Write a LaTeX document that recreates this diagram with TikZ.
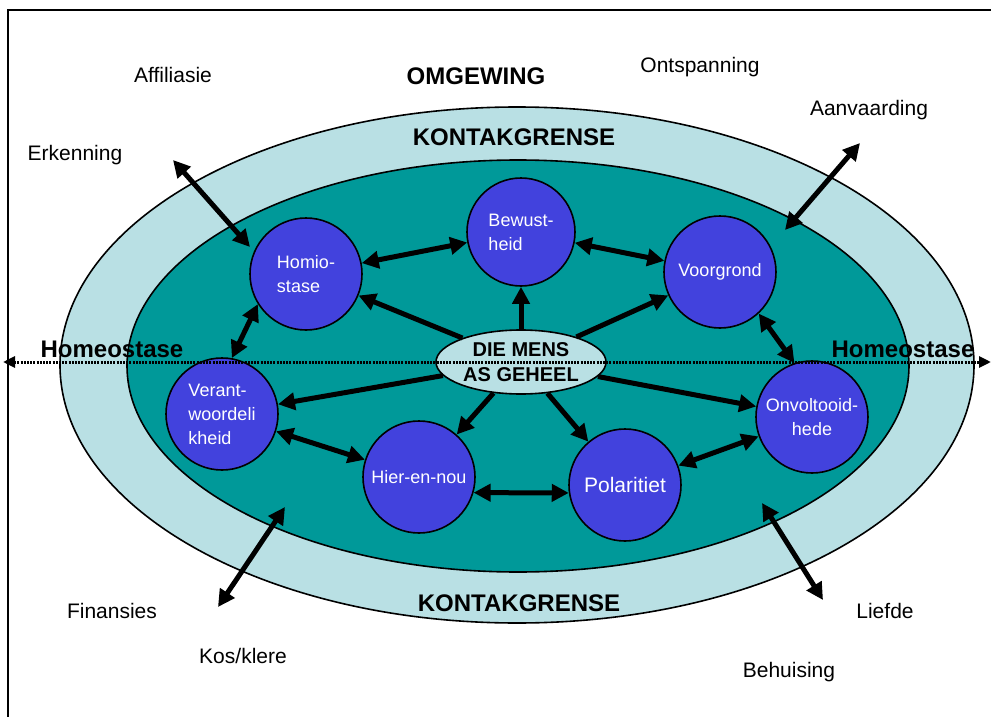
\documentclass[tikz,border=0pt]{standalone}
\usepackage{fontspec}
\setmainfont{Liberation Sans}
\usepackage{tikz}
\usetikzlibrary{shapes,arrows.meta,positioning}
\definecolor{kontakblue}{RGB}{185,224,228}
\definecolor{innerteal}{RGB}{0,153,153}
\definecolor{circleblue}{RGB}{66,66,221}

\begin{document}
\begin{tikzpicture}[x=1pt, y=-1pt,
  area/.style={line width=1.6pt},
  theme/.style={draw, circle, line width=1.6pt, fill=circleblue, text=white, minimum size=112pt, inner sep=0pt, align=left, font=\fontsize{18}{24}\selectfont},
  label/.style={font=\fontsize{21}{25}\selectfont},
  heading/.style={font=\bfseries\fontsize{24}{28}\selectfont},
  conn/.style={line width=5pt, -{Triangle[length=17pt,width=17pt]}},
  twoway/.style={line width=5pt, {Triangle[length=17pt,width=17pt]}-{Triangle[length=17pt,width=17pt]}}]
  \useasboundingbox (0,0) rectangle (991,717);

  % frame
  \draw[line width=1.8pt] (8,717) -- (8,10) -- (991,10);

  % contact boundary and inner field
  \filldraw[area, fill=kontakblue] (517,365) ellipse [x radius=457, y radius=258];
  \filldraw[area, fill=innerteal] (518,366) ellipse [x radius=391, y radius=206];

  % themes
  \node[theme, minimum size=108pt] (bewust) at (521,232) {Bewust-\\heid};
  \node[theme] (homio) at (306,274) {Homio-\\stase};
  \node[theme] (voorgrond) at (720,272) {Voorgrond};
  \node[theme] (verant) at (222,414) {Verant-\\woordeli\\kheid};
  \node[theme] (hiernou) at (419,477) {Hier-en-nou};
  \node[theme, font=\fontsize{21}{25}\selectfont] (polar) at (625,485) {Polaritiet};
  \node[theme, align=center] (onvol) at (812,417) {Onvoltooid-\\hede};

  % the whole person
  \node[draw, ellipse, line width=1.6pt, fill=kontakblue, minimum width=170pt, minimum height=64pt, inner sep=0pt, align=center, font=\bfseries\fontsize{20}{25}\selectfont] (mens) at (521,362) {DIE MENS\\AS GEHEEL};

  % homeostasis axis
  \coordinate (hleft) at (3,362);
  \coordinate (hright) at (991,362);
  \draw[line width=3pt, dash pattern=on 2pt off 1.2pt, {Triangle[length=12pt,width=11pt]}-{Triangle[length=12pt,width=11pt]}] (hleft) -- (hright);

  % texts
  \node[heading] (omgewing) at (476,76) {OMGEWING};
  \node[heading] (kontaktop) at (514,137) {KONTAKGRENSE};
  \node[heading] (kontakbot) at (519,603) {KONTAKGRENSE};
  \node[heading] (homeoleft) at (112,349) {Homeostase};
  \node[heading] (homeoright) at (903,349) {Homeostase};
  \node[label] (affiliasie) at (173,75) {Affiliasie};
  \node[label] (ontspanning) at (700,67) {Ontspanning};
  \node[label] (aanvaarding) at (869,110) {Aanvaarding};
  \node[label] (erkenning) at (75,155) {Erkenning};
  \node[label] (finansies) at (112,611) {Finansies};
  \node[label] (kosklere) at (243,656) {Kos/klere};
  \node[label] (liefde) at (885,611) {Liefde};
  \node[label] (behuising) at (789,672) {Behuising};

  % from the whole to the parts
  \draw[conn] (mens) -- (bewust);
  \draw[conn] (mens) -- (homio);
  \draw[conn] (mens) -- (voorgrond);
  \draw[conn] (mens) -- (verant);
  \draw[conn] (mens) -- (hiernou);
  \draw[conn] (mens) -- (polar);
  \draw[conn] (mens) -- (onvol);

  % between the parts
  \draw[twoway] (homio) -- (bewust);
  \draw[twoway] (bewust) -- (voorgrond);
  \draw[twoway] (homio.212) -- (verant.80);
  \draw[twoway] (voorgrond.313) -- (onvol.108);
  \draw[twoway] (verant) -- (hiernou);
  \draw[twoway] (hiernou.344) -- (polar.188);
  \draw[twoway] (polar) -- (onvol);

  % across the boundary
  \coordinate (erkout) at (173,160);
  \coordinate (erkin) at (250,247);
  \coordinate (aanout) at (860,143);
  \coordinate (aanin) at (785,230);
  \coordinate (kosout) at (218,607);
  \coordinate (kosin) at (285,507);
  \coordinate (liefout) at (823,600);
  \coordinate (liefin) at (762,503);
  \draw[twoway] (erkout) -- (erkin);
  \draw[twoway] (aanout) -- (aanin);
  \draw[twoway] (kosout) -- (kosin);
  \draw[twoway] (liefout) -- (liefin);
\end{tikzpicture}
\end{document}
